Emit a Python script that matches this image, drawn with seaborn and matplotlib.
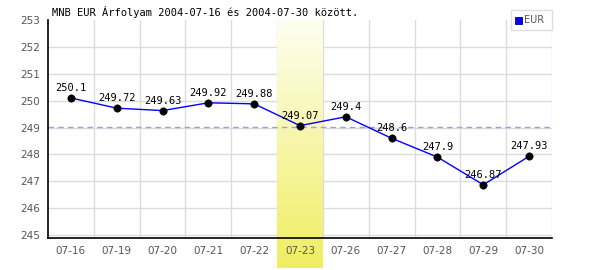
import matplotlib
matplotlib.use("Agg")
import matplotlib.pyplot as plt
import seaborn as sns
import numpy as np
import pandas as pd
from matplotlib.patches import Rectangle

dates = ["07-16", "07-19", "07-20", "07-21", "07-22", "07-23",
         "07-26", "07-27", "07-28", "07-29", "07-30"]
rates = [250.1, 249.72, 249.63, 249.92, 249.88, 249.07,
         249.4, 248.6, 247.9, 246.87, 247.93]
labels = ["250.1", "249.72", "249.63", "249.92", "249.88", "249.07",
          "249.4", "248.6", "247.9", "246.87", "247.93"]
highlight = "07-23"
title = "MNB EUR Árfolyam 2004-07-16 és 2004-07-30 között."
series_name = "EUR"
yticks = [245, 246, 247, 248, 249, 250, 251, 252, 253]

df = pd.DataFrame({"date": dates, "rate": rates})

sns.set_theme(style="white")
fig = plt.figure(figsize=(6, 2.7), dpi=100)
ax = fig.add_axes([48/600, 1-238/270, 504/600, 218/270])

ax.set_xlim(-0.5, len(dates) - 0.5)
ax.set_ylim(244.89, 253)

# grid
for yv in yticks[:-1]:
    ax.axhline(yv, color="#dcdcdc", lw=1.0, zorder=0)
for i in range(len(dates)):
    ax.axvline(i + 0.5, color="#dcdcdc", lw=1.0, zorder=0)

# highlighted column gradient
hi = dates.index(highlight)
grad = np.linspace(0, 1, 256).reshape(-1, 1)
cmap = matplotlib.colors.LinearSegmentedColormap.from_list("y", ["#fefef2", "#f0ee60"])
ax.imshow(grad, cmap=cmap, aspect="auto",
          extent=(hi - 0.5, hi + 0.5, 244.89 - 30/26.875, 253),
          origin="upper", zorder=0.5, clip_on=False)
ax.set_xlim(-0.5, len(dates) - 0.5)
ax.set_ylim(244.89, 253)

# average line
avg = float(np.mean(rates))
ax.axhline(avg, color="#9a9aff", lw=1, ls=(0, (4, 3)), zorder=1)

sns.lineplot(data=df, x="date", y="rate", ax=ax, color="#0000ff", lw=1,
             sort=False, zorder=2)
sns.scatterplot(data=df, x="date", y="rate", ax=ax, color="black", s=28,
                edgecolor="black", zorder=3)

for i, (v, t) in enumerate(zip(rates, labels)):
    ax.annotate(t, (i, v), xytext=(0, 3.5), textcoords="offset points",
                ha="center", va="bottom", fontsize=7.5,
                family="DejaVu Sans Mono", color="black", zorder=4)

ax.set_xticks(range(len(dates)))
ax.set_xticklabels(dates)
ax.set_yticks(yticks)
ax.tick_params(axis="both", labelsize=7.5, labelcolor="#555555", length=0, pad=6)
ax.set_xlabel("")
ax.set_ylabel("")
for s in ["top", "right"]:
    ax.spines[s].set_visible(False)
for s in ["left", "bottom"]:
    ax.spines[s].set_color("black")
    ax.spines[s].set_linewidth(1.2)

fig.text(52/600, 1-12/270, title, fontsize=7.5, family="DejaVu Sans Mono",
         color="black", va="center", ha="left")

# legend box
fig.patches.append(Rectangle((511/600, 1-30/270), 41/600, 20/270,
                             transform=fig.transFigure, facecolor="white",
                             edgecolor="#dddddd", lw=1))
fig.patches.append(Rectangle((515/600, 1-23.5/270), 7/600, 7/270,
                             transform=fig.transFigure, facecolor="#0000ff",
                             edgecolor="#000088", lw=0.6))
fig.text(524/600, 1-20/270, series_name, fontsize=7, color="#555555",
         va="center", ha="left")

fig.savefig("out.png", dpi=100)
